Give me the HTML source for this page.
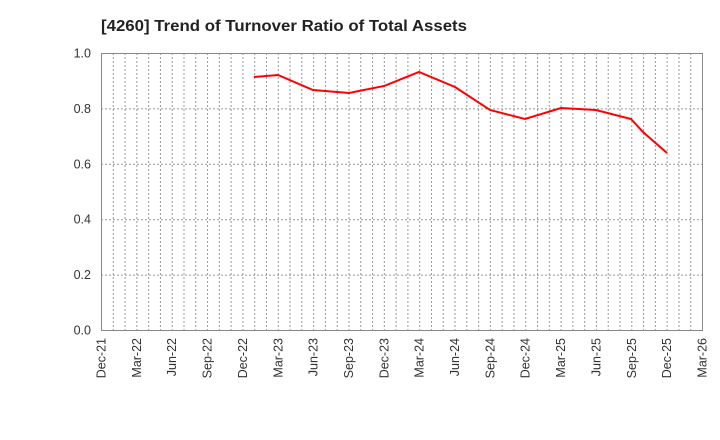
<!DOCTYPE html>
<html><head><meta charset="utf-8"><style>body{margin:0;background:#fff}svg{display:block}</style></head><body>
<svg width="720" height="440" xmlns="http://www.w3.org/2000/svg" font-family="Liberation Sans, sans-serif">
<rect width="720" height="440" fill="#fff"/>
<text x="101" y="31" font-size="16" font-weight="bold" fill="#222" textLength="366" lengthAdjust="spacingAndGlyphs">[4260]  Trend of Turnover Ratio of Total Assets</text>
<g stroke="#999" stroke-width="1" stroke-dasharray="2,2" id="grid"></g>
<rect x="101.5" y="53.5" width="601" height="277" fill="none" stroke="#888"/>
<g font-size="12.5" fill="#333" text-anchor="end" id="yl"></g>
<g font-size="12.5" fill="#333" id="xl"></g>
<polyline fill="none" stroke="#ff0000" stroke-width="2" points="254,77 278,75 313,90 349,93 384,86 419,72 455,87 490,110 525,119 561,108 596,110 631,119 643,132 667,153"/>
<script>
var g=document.getElementById('grid'),ns='http://www.w3.org/2000/svg';
for(var i=1;i<51;i++){var x=101.5+i*601/51;var l=document.createElementNS(ns,'line');l.setAttribute('x1',x);l.setAttribute('x2',x);l.setAttribute('y1',53);l.setAttribute('y2',330);g.appendChild(l);}
var yl=document.getElementById('yl');
for(var k=0;k<=5;k++){var y=330.5-k*277/5;if(k>0&&k<5){var l=document.createElementNS(ns,'line');l.setAttribute('x1',101);l.setAttribute('x2',702);l.setAttribute('y1',y);l.setAttribute('y2',y);g.appendChild(l);}
var t=document.createElementNS(ns,'text');t.setAttribute('x',91);t.setAttribute('y',y+4);t.textContent=(k*0.2).toFixed(1);yl.appendChild(t);}
var xl=document.getElementById('xl'),m=['Dec','Mar','Jun','Sep'];
for(var q=0;q<=17;q++){var x=101.5+q*601/17;var yr=21+Math.floor((q+3)/4);var s=m[q%4]+'-'+yr;
var t=document.createElementNS(ns,'text');t.setAttribute('transform','translate('+(x+4)+',338) rotate(-90)');t.setAttribute('text-anchor','end');t.textContent=s;xl.appendChild(t);}
</script>
</svg>
</body></html>
